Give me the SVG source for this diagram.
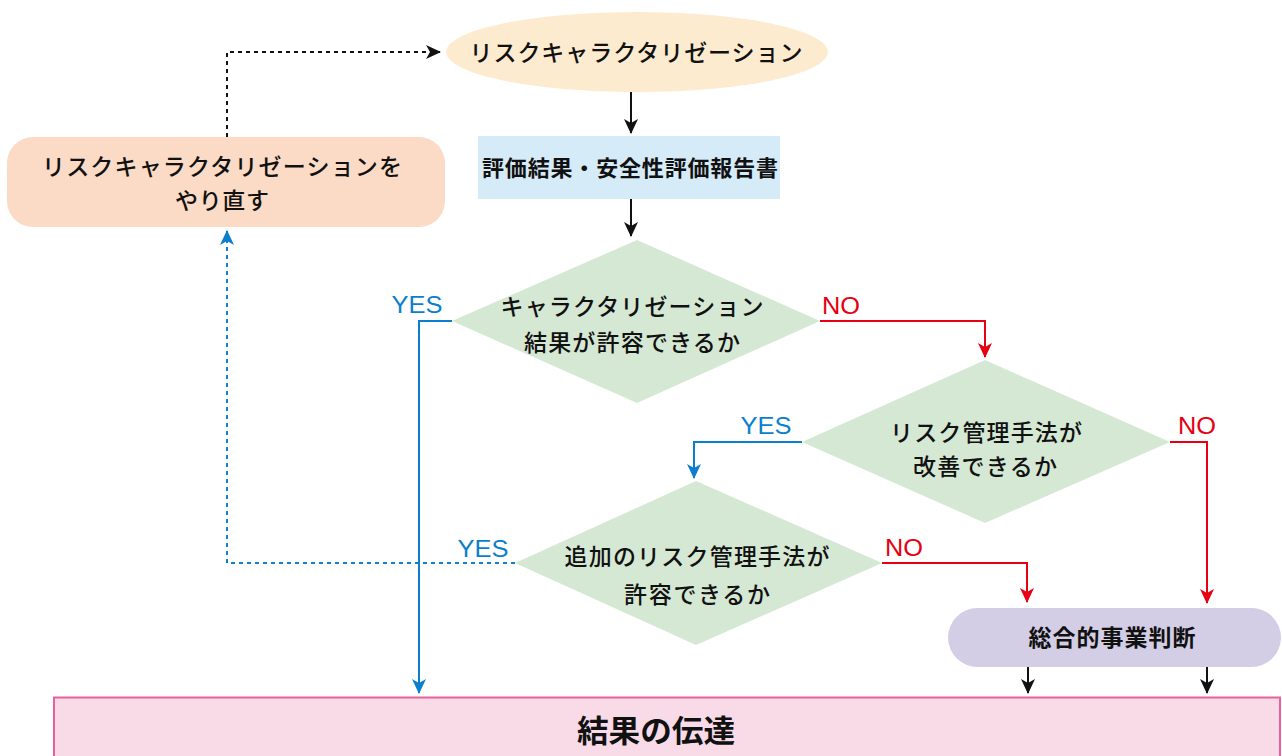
<svg xmlns="http://www.w3.org/2000/svg" width="1282" height="756" viewBox="0 0 1282 756">
<defs>
<style>
.t{font-family:"Noto Sans CJK JP","Noto Sans",sans-serif;font-size:23px;font-weight:500;fill:#111;text-anchor:middle}
.b{font-weight:bold}
.lbl{font-family:"Liberation Sans",Arial,sans-serif;font-size:23px;text-anchor:middle}
.yes{fill:#0b7fcd}
.no{fill:#e60012}
.k{fill:none;stroke:#111;stroke-width:2}
.bl{fill:none;stroke:#0b7fcd;stroke-width:2}
.rd{fill:none;stroke:#e60012;stroke-width:2}
.dot{stroke-dasharray:4 4}
.dia{fill:#d5e8d4}
</style>
<marker id="ak" markerUnits="userSpaceOnUse" markerWidth="16" markerHeight="16" viewBox="0 0 16 16" refX="14" refY="8" orient="auto"><path d="M0,1 L15,8 L0,15 L4,8 z" fill="#111"/></marker>
<marker id="ab" markerUnits="userSpaceOnUse" markerWidth="16" markerHeight="16" viewBox="0 0 16 16" refX="14" refY="8" orient="auto"><path d="M0,1 L15,8 L0,15 L4,8 z" fill="#0b7fcd"/></marker>
<marker id="ar" markerUnits="userSpaceOnUse" markerWidth="16" markerHeight="16" viewBox="0 0 16 16" refX="14" refY="8" orient="auto"><path d="M0,1 L15,8 L0,15 L4,8 z" fill="#e60012"/></marker>
</defs>
<rect width="1282" height="756" fill="#fff"/>

<g id="result">
<rect x="54" y="697.5" width="1226" height="70" fill="#f8dbe7" stroke="#e8609f" stroke-width="2"/>
<text class="t b" x="656" y="742" style="font-size:31px" textLength="158" lengthAdjust="spacingAndGlyphs">結果の伝達</text>
</g>

<g id="start">
<ellipse cx="637" cy="52" rx="191" ry="40" fill="#fdebd0"/>
<text class="t" x="636" y="61" textLength="333" lengthAdjust="spacing">リスクキャラクタリゼーション</text>
</g>

<g id="report">
<rect x="478" y="136" width="302" height="63" fill="#d5ebf8"/>
<text class="t b" x="630" y="176" style="font-size:22px" textLength="296" lengthAdjust="spacing">評価結果・安全性評価報告書</text>
</g>

<g id="redo">
<rect x="7" y="137" width="438" height="90" rx="26" fill="#fbdbc6"/>
<text class="t" x="222" y="175" textLength="360" lengthAdjust="spacing">リスクキャラクタリゼーションを</text>
<text class="t" x="222" y="209" textLength="94" lengthAdjust="spacing">やり直す</text>
</g>

<g id="dec1">
<polygon class="dia" points="637,240 820,321 637,403 452,321"/>
<text class="t" x="632" y="315" textLength="263" lengthAdjust="spacing">キャラクタリゼーション</text>
<text class="t" x="632" y="351" textLength="216" lengthAdjust="spacing">結果が許容できるか</text>
</g>

<g id="dec2">
<polygon class="dia" points="985,360 1170,442 985,523 802,442"/>
<text class="t" x="986" y="441" textLength="192" lengthAdjust="spacing">リスク管理手法が</text>
<text class="t" x="985" y="475" textLength="144" lengthAdjust="spacing">改善できるか</text>
</g>

<g id="dec3">
<polygon class="dia" points="696,481 882,563 696,645 515,563"/>
<text class="t" x="697" y="565" textLength="265" lengthAdjust="spacing">追加のリスク管理手法が</text>
<text class="t" x="697" y="603" textLength="146" lengthAdjust="spacing">許容できるか</text>
</g>

<g id="judge">
<rect x="948" y="608" width="333" height="59" rx="29.5" fill="#d3cde6"/>
<text class="t b" x="1112" y="646" textLength="167" lengthAdjust="spacing">総合的事業判断</text>
</g>

<g id="connectors">
<path class="k" d="M631,92 V133" marker-end="url(#ak)"/>
<path class="k" d="M631,199 V236" marker-end="url(#ak)"/>
<path class="k dot" d="M227,137 V52 H440" marker-end="url(#ak)"/>
<path class="bl" d="M452,321 H419 V693" marker-end="url(#ab)"/>
<path class="rd" d="M820,321 H985 V357" marker-end="url(#ar)"/>
<path class="bl" d="M802,442 H694 V478" marker-end="url(#ab)"/>
<path class="rd" d="M1170,442 H1207 V603" marker-end="url(#ar)"/>
<path class="bl dot" d="M515,563 H227 V231" marker-end="url(#ab)"/>
<path class="rd" d="M882,563 H1027 V602" marker-end="url(#ar)"/>
<path class="k" d="M1028,667 V693" marker-end="url(#ak)"/>
<path class="k" d="M1207,667 V693" marker-end="url(#ak)"/>
</g>

<g id="labels">
<text class="lbl yes" x="417" y="313" textLength="51" lengthAdjust="spacingAndGlyphs">YES</text>
<text class="lbl no" x="841" y="314" textLength="38" lengthAdjust="spacingAndGlyphs">NO</text>
<text class="lbl yes" x="766" y="434" textLength="51" lengthAdjust="spacingAndGlyphs">YES</text>
<text class="lbl no" x="1197" y="434" textLength="38" lengthAdjust="spacingAndGlyphs">NO</text>
<text class="lbl yes" x="483" y="557" textLength="51" lengthAdjust="spacingAndGlyphs">YES</text>
<text class="lbl no" x="904" y="556" textLength="38" lengthAdjust="spacingAndGlyphs">NO</text>
</g>
</svg>
